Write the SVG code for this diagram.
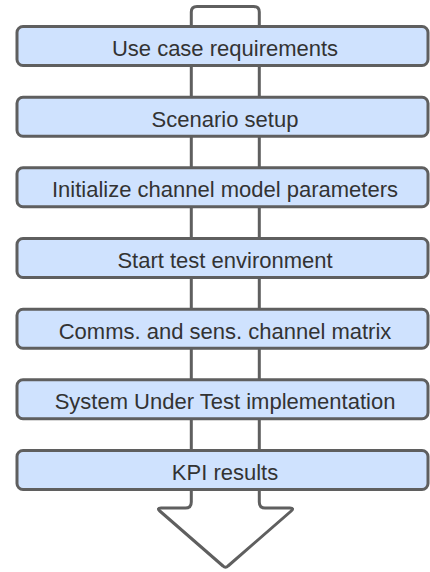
<svg xmlns="http://www.w3.org/2000/svg" width="430" height="572" viewBox="0 0 430 572">
<style>
.box{fill:#cfe2fe;stroke:#5f5f5f;stroke-width:3}
.lbl{font-family:"Liberation Sans",Arial,sans-serif;font-size:22px;fill:#333333;text-anchor:middle}
.arrow{fill:#ffffff;stroke:#5f5f5f;stroke-width:3;stroke-linejoin:round}
</style>
<rect width="430" height="572" fill="#ffffff"/>
<g id="connectors">
<path class="arrow" d="M191.3 12 Q191.3 6.5 197 6.5 H253.5 Q259.3 6.5 259.3 12 V502 Q259.3 508 265 508 H290 Q294.5 508 291.2 511 L228 566 Q225.5 568.5 223 566 L159.8 511 Q156.5 508 161 508 H185.5 Q191.3 508 191.3 502 Z"/>
</g>
<g id="n1"><rect class="box" x="17" y="26.5" width="411" height="39" rx="6"/><text class="lbl" x="225" y="56">Use case requirements</text></g>
<g id="n2"><rect class="box" x="17" y="97.2" width="411" height="39" rx="6"/><text class="lbl" x="225" y="126.7">Scenario setup</text></g>
<g id="n3"><rect class="box" x="17" y="167.8" width="411" height="39" rx="6"/><text class="lbl" x="225" y="197.3">Initialize channel model parameters</text></g>
<g id="n4"><rect class="box" x="17" y="238.5" width="411" height="39" rx="6"/><text class="lbl" x="225" y="268">Start test environment</text></g>
<g id="n5"><rect class="box" x="17" y="309.2" width="411" height="39" rx="6"/><text class="lbl" x="225" y="338.7">Comms. and sens. channel matrix</text></g>
<g id="n6"><rect class="box" x="17" y="379.8" width="411" height="39" rx="6"/><text class="lbl" x="225" y="409.3">System Under Test implementation</text></g>
<g id="n7"><rect class="box" x="17" y="450.5" width="411" height="39" rx="6"/><text class="lbl" x="225" y="480">KPI results</text></g>
</svg>
